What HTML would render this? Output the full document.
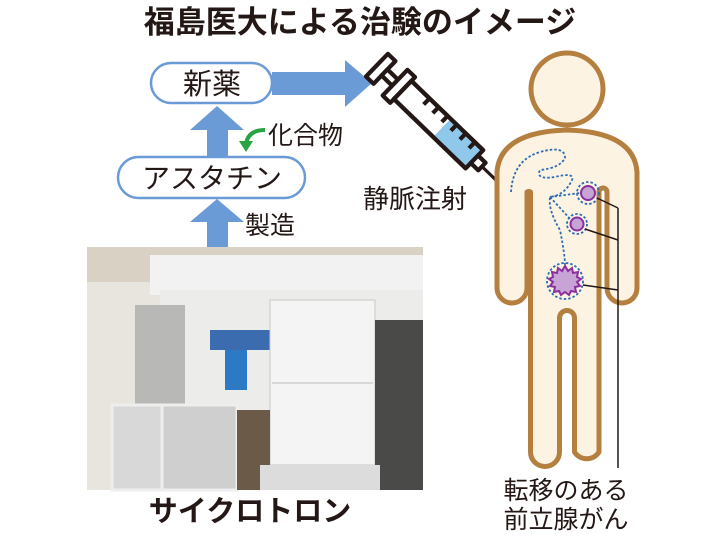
<!DOCTYPE html>
<html><head><meta charset="utf-8"><style>
body{margin:0;width:720px;height:540px;background:#fff;overflow:hidden}
svg{display:block}
text{font-family:"Liberation Sans","Noto Sans CJK JP",sans-serif;fill:#231815}
</style></head><body>
<svg width="720" height="540" viewBox="0 0 720 540">
<text x="360" y="33" font-size="31" font-weight="bold" text-anchor="middle">福島医大による治験のイメージ</text>
<g fill="#6a9bd6">
<rect x="272" y="72" width="75" height="23"/>
<polygon points="345,60 372,83 345,107"/>
<rect x="207" y="128" width="21" height="30"/>
<polygon points="190,130 217,106 244,130"/>
<rect x="207" y="220" width="21" height="30"/>
<polygon points="190,222 217,199 244,222"/>
</g>
<rect x="151" y="63" width="121" height="40" rx="20" fill="#fff" stroke="#6a9bd6" stroke-width="2.5"/>
<text x="212" y="94" font-size="29" text-anchor="middle">新薬</text>
<rect x="118" y="157" width="187" height="41" rx="20.5" fill="#fff" stroke="#6a9bd6" stroke-width="2.5"/>
<text x="212" y="188" font-size="28" text-anchor="middle">アスタチン</text>
<text x="268" y="144" font-size="25">化合物</text>
<text x="245" y="234" font-size="25">製造</text>
<path d="M265,130 Q248,130 246,144" fill="none" stroke="#2aa344" stroke-width="4"/>
<polygon points="239,141 253,141 246,152" fill="#2aa344"/>
<text x="363" y="208" font-size="26">静脈注射</text>
<g transform="translate(383,71) rotate(44) scale(1.05)" stroke="#231815" stroke-width="4" fill="#fff" stroke-linejoin="round">
<rect x="-8" y="-15" width="10" height="30"/>
<rect x="2" y="-4" width="14" height="8"/>
<rect x="16" y="-17" width="10" height="34"/>
<rect x="26" y="-12" width="95" height="24"/>
<rect x="78" y="-10" width="41" height="20" fill="#8fc8ea" stroke="none"/>
<rect x="26" y="-12" width="95" height="24" fill="none"/>
<path d="M50,-12v8M62,-12v8M74,-12v8M86,-12v8M98,-12v8M110,-12v8" fill="none"/>
<rect x="121" y="-5" width="10" height="10"/>
<line x1="131" y1="0" x2="165" y2="0" stroke-width="3"/>
</g>
<circle cx="567" cy="89" r="36" fill="#fdf3e3" stroke="#b5803f" stroke-width="5"/>
<path d="M497,172 Q500,132 567,130 Q634,132 637,172 L637,288 A15,15 0 0 1 607,288 L607,192 A4,4 0 0 0 599,192 L599,452 A14.5,14.5 0 0 1 574.5,452 L574.5,318 A7.5,7.5 0 0 0 559.5,318 L559.5,452 A14.5,14.5 0 0 1 530.5,452 L530.5,192 A4,4 0 0 0 527,192 L527,288 A15,15 0 0 1 497,288 Z" fill="#fdf3e3" stroke="#b5803f" stroke-width="5" stroke-linejoin="round"/>
<path d="M511,192 Q513,160 540,152 Q565,145 565,158 Q560,168 540,170 Q535,180 555,177 Q575,172 572,180 Q565,195 550,197 Q548,210 560,230 Q565,255 565,265" fill="none" stroke="#2a6db5" stroke-width="1.8" stroke-dasharray="2.5 2"/>
<path d="M550,197 L580,193 M550,197 L572,221" fill="none" stroke="#2a6db5" stroke-width="1.8" stroke-dasharray="2.5 2"/>
<g stroke="#2a6db5" stroke-width="1.8" stroke-dasharray="2.5 2" fill="none">
<circle cx="588" cy="193" r="11"/><circle cx="577" cy="224" r="10"/><circle cx="565" cy="281" r="18"/>
</g>
<g fill="#c7a3d6" stroke="#8b2f9c" stroke-width="2">
<circle cx="588" cy="193" r="7"/><circle cx="577" cy="224" r="6.5"/>
<polygon points="565,266 568,271 572,268 573,273 578,272 577,277 581,279 577,282 580,286 575,287 576,292 571,291 569,295 565,292 561,295 559,291 554,292 555,287 550,286 553,282 549,279 553,277 552,272 557,273 558,268 562,271"/>
</g>
<path d="M597,198 L618,208 M585,229 L618,240 M583,285 L618,290 M618,208 V468" fill="none" stroke="#231815" stroke-width="1.5"/>
<text x="566" y="499" font-size="25" text-anchor="middle">転移のある</text>
<text x="566" y="528" font-size="25" text-anchor="middle">前立腺がん</text>
<g>
<rect x="87" y="247" width="336" height="243" fill="#e8e4de"/>
<rect x="87" y="247" width="336" height="35" fill="#d9d1c4"/>
<rect x="150" y="255" width="273" height="40" fill="#f2f2f2"/>
<rect x="160" y="290" width="263" height="120" fill="#ececea"/>
<rect x="210" y="330" width="60" height="20" fill="#3b6cb0"/>
<rect x="225" y="350" width="22" height="40" fill="#2e79c4"/>
<rect x="135" y="305" width="50" height="110" fill="#b8b8b6"/>
<rect x="270" y="300" width="105" height="165" fill="#f4f4f4" stroke="#c8c8c8"/>
<line x1="272" y1="383" x2="373" y2="383" stroke="#bbb"/>
<rect x="375" y="320" width="48" height="170" fill="#4a4a48"/>
<rect x="112" y="405" width="50" height="85" fill="#d8d8d8" stroke="#eee" stroke-width="3"/>
<rect x="162" y="405" width="75" height="85" fill="#cfcfcf" stroke="#eee" stroke-width="3"/>
<rect x="237" y="410" width="33" height="80" fill="#6b5a48"/>
<rect x="260" y="465" width="120" height="25" fill="#dcdcdc"/>
</g>
<text x="250" y="521" font-size="29" font-weight="bold" text-anchor="middle">サイクロトロン</text>
</svg>
</body></html>
